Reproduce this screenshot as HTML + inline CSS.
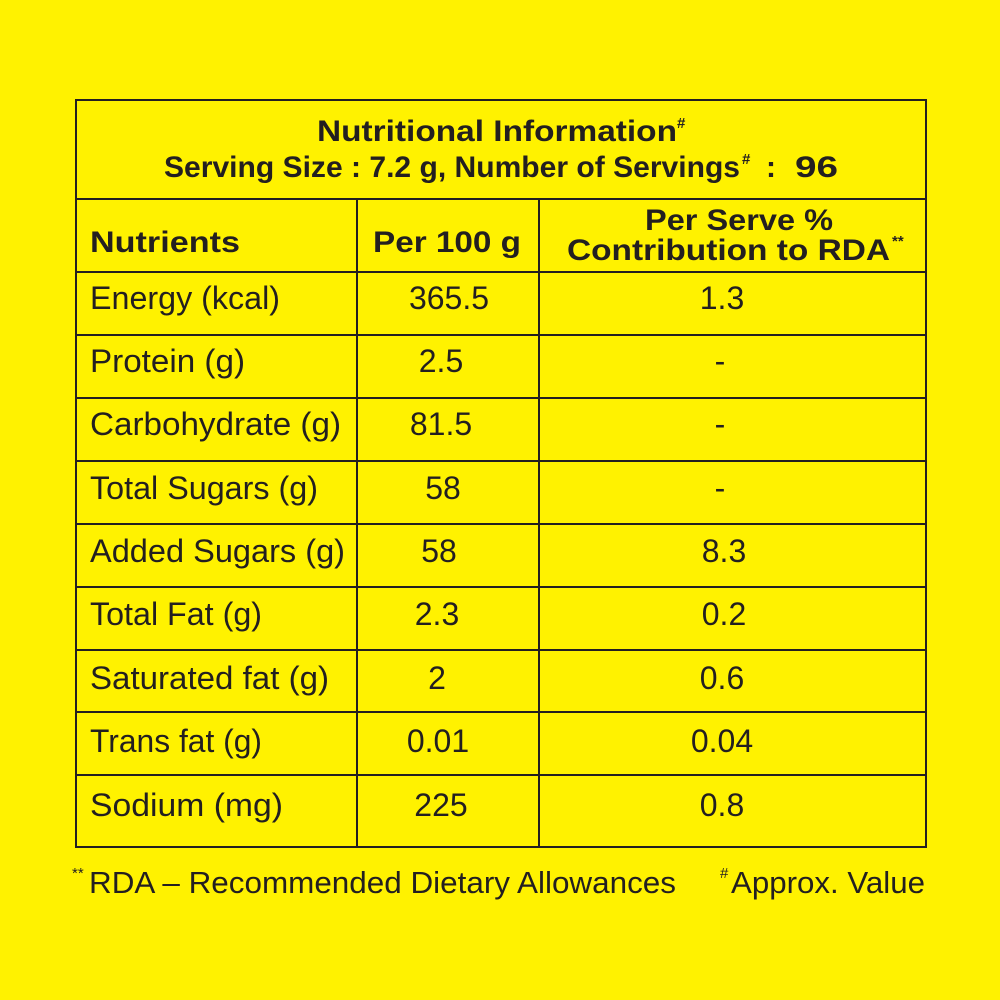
<!DOCTYPE html>
<html><head><meta charset="utf-8"><style>
html,body{margin:0;padding:0;background:#fff200;}
svg{display:block}
text{font-family:"Liberation Sans",sans-serif;fill:#231f20}
.b{font-weight:bold}
</style></head><body>
<svg width="1000" height="1000" viewBox="0 0 1000 1000">
<rect width="1000" height="1000" fill="#fff200"/>
<g stroke="#231f20" stroke-width="2" fill="none">
<rect x="76" y="100" width="850" height="747"/>
<line x1="76" y1="199" x2="926" y2="199"/>
<line x1="76" y1="272" x2="926" y2="272"/>
<line x1="76" y1="335" x2="926" y2="335"/>
<line x1="76" y1="398" x2="926" y2="398"/>
<line x1="76" y1="461" x2="926" y2="461"/>
<line x1="76" y1="524" x2="926" y2="524"/>
<line x1="76" y1="587" x2="926" y2="587"/>
<line x1="76" y1="650" x2="926" y2="650"/>
<line x1="76" y1="712" x2="926" y2="712"/>
<line x1="76" y1="775" x2="926" y2="775"/>
<line x1="357" y1="199" x2="357" y2="847"/>
<line x1="539" y1="199" x2="539" y2="847"/>
</g>
<text class="b" x="317" y="141" font-size="30" textLength="360" lengthAdjust="spacingAndGlyphs">Nutritional Information</text>
<text class="b" x="677" y="128" font-size="15">#</text>
<text class="b" x="164" y="177" font-size="30" textLength="576" lengthAdjust="spacingAndGlyphs">Serving Size : 7.2 g, Number of Servings</text>
<text class="b" x="742" y="164" font-size="15">#</text>
<text class="b" x="766" y="177" font-size="30">:</text>
<text class="b" x="795" y="177" font-size="30" textLength="43" lengthAdjust="spacingAndGlyphs">96</text>
<text class="b" x="90" y="252" font-size="30" textLength="150" lengthAdjust="spacingAndGlyphs">Nutrients</text>
<text class="b" x="373" y="252" font-size="30" textLength="148" lengthAdjust="spacingAndGlyphs">Per 100 g</text>
<text class="b" x="645" y="230" font-size="30" textLength="188" lengthAdjust="spacingAndGlyphs">Per Serve %</text>
<text class="b" x="567" y="260" font-size="30" textLength="323" lengthAdjust="spacingAndGlyphs">Contribution to RDA</text>
<text class="b" x="892" y="246" font-size="15">**</text>
<g font-size="32">
<text x="90" y="309" textLength="190" lengthAdjust="spacingAndGlyphs">Energy (kcal)</text>
<text x="90" y="372" textLength="155" lengthAdjust="spacingAndGlyphs">Protein (g)</text>
<text x="90" y="435" textLength="251" lengthAdjust="spacingAndGlyphs">Carbohydrate (g)</text>
<text x="90" y="499" textLength="228" lengthAdjust="spacingAndGlyphs">Total Sugars (g)</text>
<text x="90" y="562" textLength="255" lengthAdjust="spacingAndGlyphs">Added Sugars (g)</text>
<text x="90" y="625" textLength="172" lengthAdjust="spacingAndGlyphs">Total Fat (g)</text>
<text x="90" y="689" textLength="239" lengthAdjust="spacingAndGlyphs">Saturated fat (g)</text>
<text x="90" y="752" textLength="172" lengthAdjust="spacingAndGlyphs">Trans fat (g)</text>
<text x="90" y="816" textLength="193" lengthAdjust="spacingAndGlyphs">Sodium (mg)</text>
</g>
<g font-size="32" text-anchor="middle">
<text x="449" y="309">365.5</text>
<text x="441" y="372">2.5</text>
<text x="441" y="435">81.5</text>
<text x="443" y="499">58</text>
<text x="439" y="562">58</text>
<text x="437" y="625">2.3</text>
<text x="437" y="689">2</text>
<text x="438" y="752">0.01</text>
<text x="441" y="816">225</text>
<text x="722" y="309">1.3</text>
<text x="720" y="372">-</text>
<text x="720" y="435">-</text>
<text x="720" y="499">-</text>
<text x="724" y="562">8.3</text>
<text x="724" y="625">0.2</text>
<text x="722" y="689">0.6</text>
<text x="722" y="752">0.04</text>
<text x="722" y="816">0.8</text>
</g>
<text x="72" y="878" font-size="15">**</text>
<text x="89" y="893" font-size="31" textLength="587" lengthAdjust="spacingAndGlyphs">RDA – Recommended Dietary Allowances</text>
<text x="720" y="878" font-size="15">#</text>
<text x="731" y="893" font-size="31" textLength="194" lengthAdjust="spacingAndGlyphs">Approx. Value</text>
</svg>
</body></html>
